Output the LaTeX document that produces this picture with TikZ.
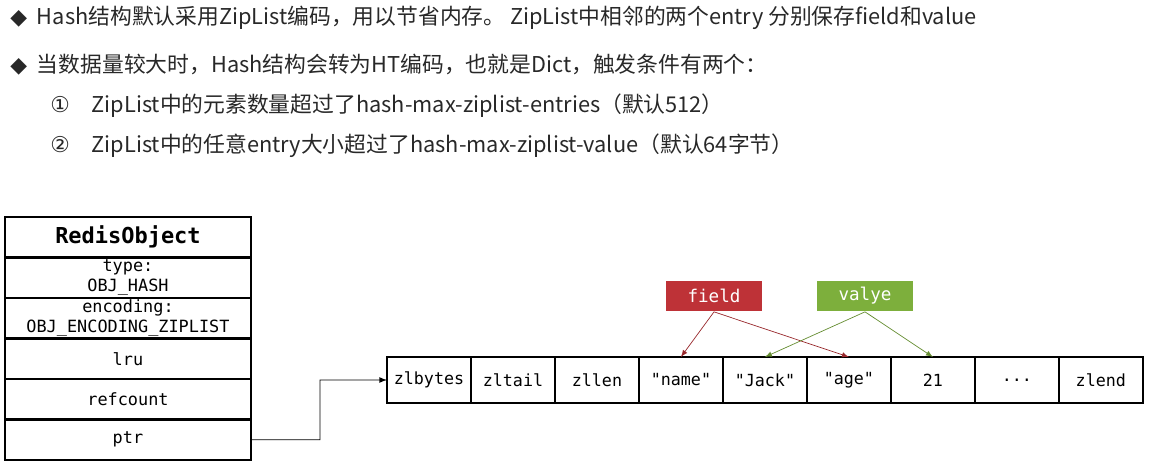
\documentclass[tikz,border=0pt]{standalone}
\usepackage{fontspec}
\setmainfont{Noto Sans CJK SC}
\setmonofont{DejaVu Sans Mono}
\newfontfamily\symfont{DejaVu Sans}
\usetikzlibrary{positioning}
\definecolor{fieldred}{RGB}{190,50,55}
\definecolor{valgreen}{RGB}{125,175,60}
\definecolor{txtgray}{RGB}{40,40,40}
\tikzset{
  line/.style={font=\fontsize{12.4}{14}\selectfont, text=txtgray, anchor=west, inner sep=0pt},
  row/.style={draw, line width=1.2pt, minimum width=4.92cm, text width=4.8cm, align=center,
    minimum height=0.81cm, inner sep=0pt, outer sep=0pt, font=\ttfamily\fontsize{9.6}{11.5}\selectfont},
  cell/.style={draw, line width=1.2pt, minimum width=1.68cm, minimum height=0.92cm,
    inner sep=0pt, outer sep=0pt, font=\ttfamily\fontsize{9.5}{11}\selectfont},
  tag/.style={minimum width=1.92cm, minimum height=0.62cm, inner sep=0pt, text=white,
    font=\ttfamily\fontsize{10}{12}\selectfont},
}
\begin{document}
\begin{tikzpicture}[x=0.02cm, y=-0.02cm]
  \useasboundingbox (0,0) rectangle (1150,473);

  % header text
  \node[line] (b1) at (10,18) {{\symfont ◆}\hspace{0.45em}Hash结构默认采用ZipList编码，用以节省内存。 ZipList中相邻的两个entry 分别保存field和value};
  \node[line] (b2) at (10,65) {{\symfont ◆}\hspace{0.45em}当数据量较大时，Hash结构会转为HT编码，也就是Dict，触发条件有两个：};
  \node[line] (c1) at (50,106) {{\symfont ①}\hspace{1em}ZipList中的元素数量超过了hash-max-ziplist-entries（默认512）};
  \node[line] (c2) at (50,146) {{\symfont ②}\hspace{1em}ZipList中的任意entry大小超过了hash-max-ziplist-value（默认64字节）};

  % RedisObject
  \node[row, anchor=north west, font=\ttfamily\bfseries\fontsize{12.5}{14}\selectfont] (title) at (5,217) {RedisObject};
  \node[row, below=0pt of title] (type) {type:\\OBJ\_HASH};
  \node[row, below=0pt of type] (enc) {encoding:\\OBJ\_ENCODING\_ZIPLIST};
  \node[row, below=0pt of enc] (lru) {lru};
  \node[row, below=0pt of lru] (ref) {refcount};
  \node[row, below=0pt of ref] (ptr) {ptr};

  % ziplist
  \node[cell, anchor=north west] (zlbytes) at (387,357) {zlbytes};
  \node[cell, right=0pt of zlbytes] (zltail) {zltail};
  \node[cell, right=0pt of zltail] (zllen) {zllen};
  \node[cell, right=0pt of zllen] (name) {"name"};
  \node[cell, right=0pt of name] (jack) {"Jack"};
  \node[cell, right=0pt of jack] (age) {"age"};
  \node[cell, right=0pt of age] (num) {21};
  \node[cell, right=0pt of num] (dots) {...};
  \node[cell, right=0pt of dots] (zlend) {zlend};

  \node[tag, fill=fieldred] (field) at (714,296) {field};
  \node[tag, fill=valgreen] (valye) at (865,296) {valye};

  \draw[->, >=latex, fieldred!80!black, line width=0.4pt] (field.south) -- (name.north);
  \draw[->, >=latex, fieldred!80!black, line width=0.4pt] (field.south) -- (age.north);
  \draw[->, >=latex, valgreen!80!black, line width=0.4pt] (valye.south) -- (jack.north);
  \draw[->, >=latex, valgreen!80!black, line width=0.4pt] (valye.south) -- (num.north);

  \draw[->, >=latex, line width=0.5pt] (ptr.east) -| (320,380) -- (zlbytes.west);
\end{tikzpicture}
\end{document}
